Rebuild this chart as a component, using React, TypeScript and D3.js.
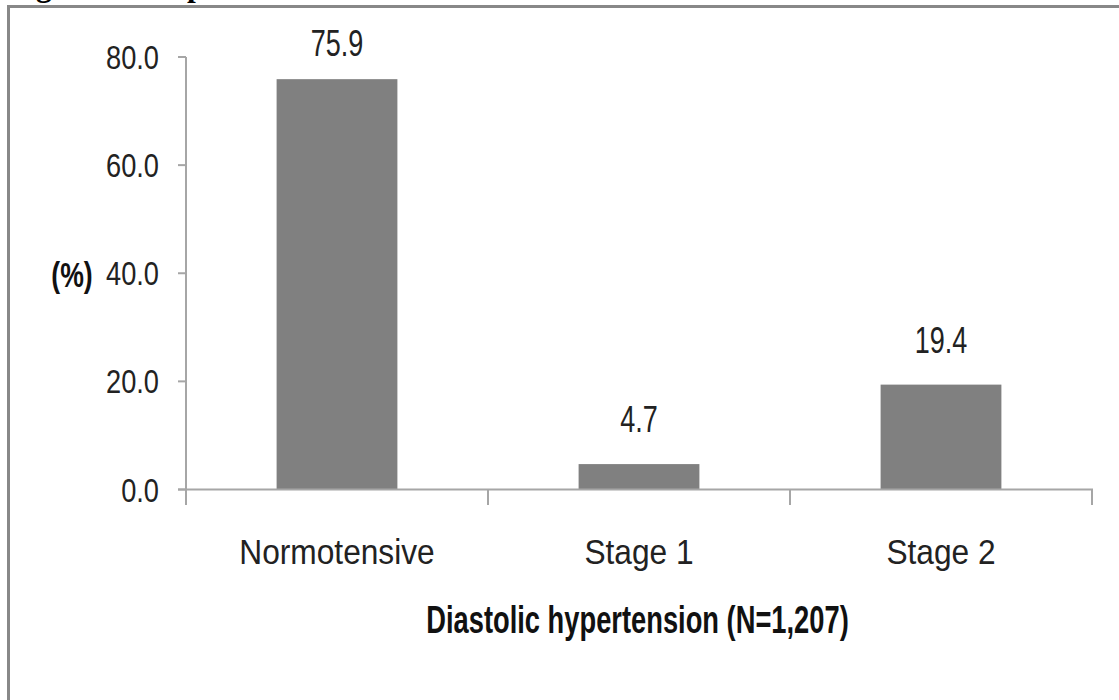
import React from "react";
import * as d3 from "d3";

// data
const categories = ["Normotensive", "Stage 1", "Stage 2"];
const percents = [75.9, 4.7, 19.4];
const yTicks = [0, 20, 40, 60, 80];
const yLabel = "(%)";
const xTitle = "Diastolic hypertension (N=1,207)";
const caption = "Figure 3: Proportion";

const W = 1119;
const H = 700;

const plot = { left: 186, right: 1092, top: 57, bottom: 489.5 };

const App = () => {
  const x = d3
    .scaleBand<string>()
    .domain(categories)
    .range([plot.left, plot.right])
    .paddingInner(0.6)
    .paddingOuter(0.3);

  const y = d3.scaleLinear().domain([0, 80]).range([plot.bottom, plot.top]);

  const step = x.step();
  const x0 = plot.left;
  const boundaries = d3.range(categories.length + 1).map((i) => x0 + i * step);

  const axisColor = "#a6a6a6";
  const font = "'Liberation Sans', Arial, sans-serif";

  // condensed text helper (original uses a narrow Calibri-like face)
  const sx = (px: number, py: number, s: number) => `translate(${px},${py}) scale(${s},1)`;

  return (
    <svg
      width={W}
      height={H}
      style={{ position: "fixed", left: 0, top: 0, background: "#fff" }}
    >
      <rect width={W} height={H} fill="#fff" />

      {/* caption, mostly cut off above the frame */}
      <text
        x={8}
        y={-4}
        fontFamily="'Liberation Serif', 'Times New Roman', serif"
        fontWeight="bold"
        fontSize={31.5}
        fill="#000"
      >
        {caption}
      </text>

      {/* chart frame */}
      <rect
        x={8.5}
        y={6.5}
        width={W + 50}
        height={H + 50}
        fill="none"
        stroke="#888"
        strokeWidth={3}
      />

      {/* bars */}
      {categories.map((c, i) => (
        <rect
          key={c}
          x={x(c)}
          y={y(percents[i])}
          width={x.bandwidth()}
          height={plot.bottom - y(percents[i])}
          fill="#808080"
        />
      ))}

      {/* y axis */}
      <line x1={plot.left} x2={plot.left} y1={plot.top} y2={505} stroke={axisColor} strokeWidth={2} />
      {yTicks.map((t) => (
        <g key={t}>
          <line x1={178} x2={plot.left} y1={y(t)} y2={y(t)} stroke={axisColor} strokeWidth={2} />
          <text
            transform={sx(159, y(t) + 12, 0.8)}
            textAnchor="end"
            fontFamily={font}
            fontSize={34}
            fill="#222"
          >
            {t.toFixed(1)}
          </text>
        </g>
      ))}

      {/* x axis */}
      <line x1={178} x2={plot.right + 1} y1={plot.bottom} y2={plot.bottom} stroke={axisColor} strokeWidth={2} />
      {boundaries.map((b, i) => (
        <line key={i} x1={b} x2={b} y1={plot.bottom} y2={505} stroke={axisColor} strokeWidth={2} />
      ))}

      {/* value labels */}
      {categories.map((c, i) => (
        <text
          key={c}
          transform={sx(
            (x(c) as number) + x.bandwidth() / 2,
            Math.max(y(percents[i]) - 32, 56),
            0.72
          )}
          textAnchor="middle"
          fontFamily={font}
          fontSize={37.5}
          fill="#222"
        >
          {percents[i].toFixed(1)}
        </text>
      ))}

      {/* category labels */}
      {categories.map((c) => (
        <text
          key={c}
          transform={sx((x(c) as number) + x.bandwidth() / 2, 564, 0.88)}
          textAnchor="middle"
          fontFamily={font}
          fontSize={36}
          fill="#222"
        >
          {c}
        </text>
      ))}

      {/* axis titles */}
      <text
        transform={sx(72, 287, 0.74)}
        textAnchor="middle"
        fontFamily={font}
        fontWeight="bold"
        fontSize={36}
        fill="#111"
      >
        {yLabel}
      </text>
      <text
        transform={sx(637.5, 633, 0.7)}
        textAnchor="middle"
        fontFamily={font}
        fontWeight="bold"
        fontSize={39}
        fill="#111"
      >
        {xTitle}
      </text>
    </svg>
  );
};

export default App;
